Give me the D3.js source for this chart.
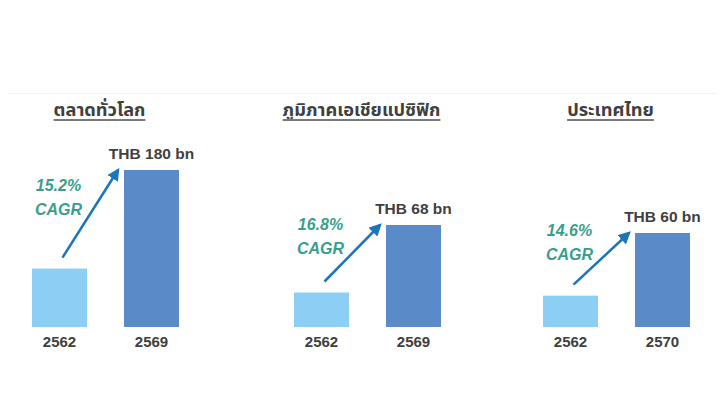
<!DOCTYPE html>
<html>
<head>
<meta charset="utf-8">
<script src="https://cdn.jsdelivr.net/npm/d3@7"></script>
<style>
  body { margin: 0; background: #fff; }
  svg { display: block; }
</style>
</head>
<body>
<svg id="chart" width="726" height="416"></svg>
<script>
// Chart data
const regions = ["ตลาดทั่วโลก", "ภูมิภาคเอเชียแปซิฟิก", "ประเทศไทย"];
const startYears = ["2562", "2562", "2562"];
const endYears = ["2569", "2569", "2570"];
const startValues = [67, 23, 20];
const endValues = [180, 68, 60];
const cagrLabels = ["15.2%", "16.8%", "14.6%"];
const valueLabels = ["THB 180 bn", "THB 68 bn", "THB 60 bn"];

// Layout
const panelLeft = [32, 294, 543];
const panelTop = [170, 225, 233];
const baseY = 327;
const panelWidth = 147;

const svg = d3.select('#chart');

svg.append('rect').attr('width', 726).attr('height', 416).attr('fill', '#fff');
svg.append('line')
    .attr('x1', 7).attr('x2', 718).attr('y1', 93.5).attr('y2', 93.5)
    .attr('stroke', '#f3f3f3').attr('stroke-width', 1);

const defs = svg.append('defs');
defs.append('marker')
    .attr('id', 'arrowhead')
    .attr('viewBox', '0 0 10 10')
    .attr('refX', 8).attr('refY', 5)
    .attr('markerWidth', 5).attr('markerHeight', 5)
    .attr('orient', 'auto')
    .append('path')
    .attr('d', 'M0,0 L10,5 L0,10 z')
    .attr('fill', '#1a75bb');

const latin = 'Arial, "Liberation Sans", sans-serif';

regions.forEach((name, i) => {
    const g = svg.append('g').attr('transform', `translate(${panelLeft[i]},0)`);

    const x = d3.scaleBand()
        .domain([startYears[i] + 'a', endYears[i] + 'b'])
        .range([0, panelWidth])
        .paddingInner(0.402)
        .paddingOuter(0);

    const y = d3.scaleLinear()
        .domain([0, endValues[i]])
        .range([baseY, panelTop[i]]);

    const bars = [
        { key: startYears[i] + 'a', year: startYears[i], value: startValues[i], color: '#8dcff4' },
        { key: endYears[i] + 'b', year: endYears[i], value: endValues[i], color: '#5a8bc8' }
    ];

    g.selectAll('rect.bar')
        .data(bars)
        .join('rect')
        .attr('class', 'bar')
        .attr('x', d => x(d.key))
        .attr('y', d => y(d.value))
        .attr('width', x.bandwidth())
        .attr('height', d => y(0) - y(d.value))
        .attr('fill', d => d.color);

    // year labels
    g.selectAll('text.year')
        .data(bars)
        .join('text')
        .attr('class', 'year')
        .attr('x', d => x(d.key) + x.bandwidth() / 2)
        .attr('y', 347)
        .attr('text-anchor', 'middle')
        .attr('font-family', latin)
        .attr('font-weight', 'bold')
        .attr('font-size', 15)
        .attr('fill', '#404040')
        .text(d => d.year);

    // value label over the target bar
    const b = bars[1];
    g.append('text')
        .attr('x', x(b.key) + x.bandwidth() / 2)
        .attr('y', y(b.value) - 11)
        .attr('text-anchor', 'middle')
        .attr('font-family', latin)
        .attr('font-weight', 'bold')
        .attr('font-size', 15.5)
        .attr('fill', '#404040')
        .text(valueLabels[i]);

    // growth arrow
    const a = bars[0];
    const x1 = x(a.key) + x.bandwidth() / 2 + 3;
    const y1 = y(a.value) - 11;
    const x2 = x(b.key) - 6;
    const y2 = y(b.value);
    g.append('line')
        .attr('x1', x1).attr('y1', y1)
        .attr('x2', x2).attr('y2', y2)
        .attr('stroke', '#1a75bb')
        .attr('stroke-width', 2.5)
        .attr('marker-end', 'url(#arrowhead)');

    const mid = (y1 + y2) / 2;
    const cx = x(a.key) + x.bandwidth() / 2;
    [cagrLabels[i], 'CAGR'].forEach((t, k) => {
        g.append('text')
            .attr('x', cx - 1)
            .attr('y', k === 0 ? mid - 23 : mid + 1)
            .attr('text-anchor', 'middle')
            .attr('font-family', latin)
            .attr('font-weight', 'bold')
            .attr('font-style', 'italic')
            .attr('font-size', 16)
            .attr('fill', '#3a9e8c')
            .text(t);
    });

    // title with underline
    const title = g.append('text')
        .attr('x', panelWidth / 2 - 6)
        .attr('y', 116)
        .attr('text-anchor', 'middle')
        .attr('font-family', 'Tahoma, "Noto Sans Thai", "Noto Sans", sans-serif')
        .attr('font-weight', 'bold')
        .attr('font-size', 18.2)
        .attr('fill', '#404040')
        .text(name);
    const w = title.node().getComputedTextLength();
    g.append('line')
        .attr('x1', panelWidth / 2 - 6 - w / 2)
        .attr('x2', panelWidth / 2 - 6 + w / 2)
        .attr('y1', 120).attr('y2', 120)
        .attr('stroke', '#7a7a7a')
        .attr('stroke-width', 1.8);
});
</script>
</body>
</html>
